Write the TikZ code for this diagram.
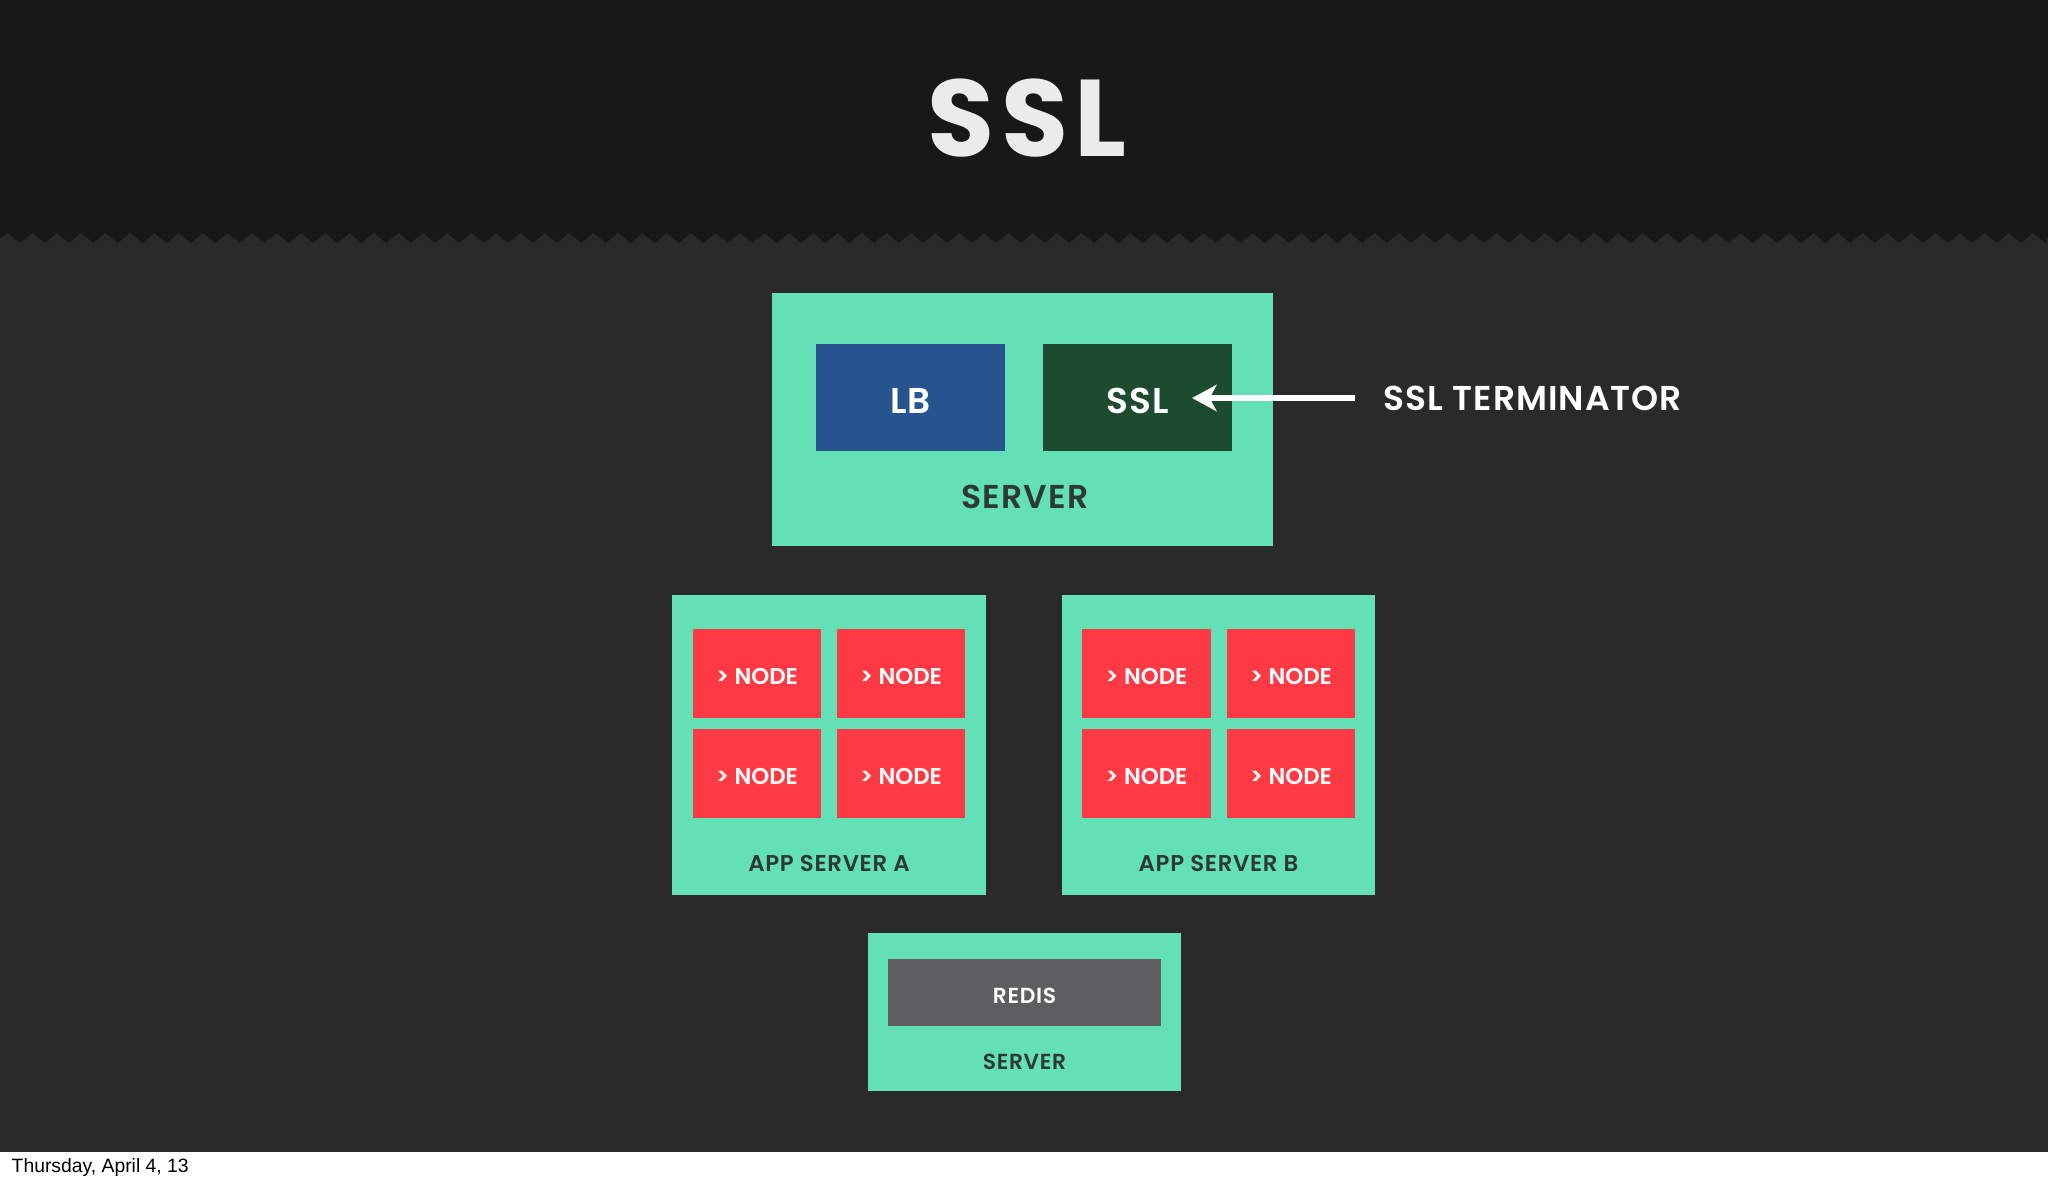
\documentclass[tikz,border=0pt]{standalone}
\usepackage{fontspec}
\setmainfont{Poppins}[UprightFont=*-SemiBold,BoldFont=*-Bold]
\newfontfamily\footfont{Liberation Sans}
\usetikzlibrary{arrows.meta}
\definecolor{topbg}{HTML}{181818}
\definecolor{slate}{HTML}{2A2A2A}
\definecolor{teal}{HTML}{64E0B6}
\definecolor{lbblue}{HTML}{27548F}
\definecolor{sslgreen}{HTML}{1D4B30}
\definecolor{nodered}{HTML}{FF3A45}
\definecolor{redisgrey}{HTML}{5E5D5F}
\definecolor{darktext}{HTML}{2D3A34}
\newcommand{\lowtxt}[1]{\raisebox{-0.9pt}[\height][0pt]{#1}}
\tikzset{
  box/.style={fill=teal, draw=none, inner sep=0pt, rectangle},
  inner/.style={draw=none, inner sep=0pt, rectangle, text=white},
  nodebox/.style={inner, fill=nodered, minimum width=1.28cm, minimum height=0.89cm, font=\fontsize{6.5}{7}\selectfont},
  boxlabel/.style={inner sep=0pt, text=darktext},
  arr/.style={draw=white, line width=1.7pt, -{Stealth[length=7pt,width=7.5pt,inset=2pt]}}
}
\begin{document}
\begin{tikzpicture}[x=0.01cm,y=-0.01cm]
\useasboundingbox (0,0) rectangle (2048,1184);
\clip (0,0) rectangle (2048,1184);
% backgrounds
\fill[slate] (0,0) rectangle (2048,1152);
\fill[topbg] (0,0) -- (0,238)
  \foreach \k in {0,...,83} { -- ({8+24.4*\k},233) -- ({20.2+24.4*\k},243) }
  -- (2048,236) -- (2048,0) -- cycle;
\fill[white] (0,1152) rectangle (2048,1184);
% title
\node[inner sep=0pt, text=white!92!black, font=\fontsize{31}{34}\bfseries\addfontfeature{LetterSpace=6}] (title) at (1027,118) {SSL};
% top server
\node[box, minimum width=5.01cm, minimum height=2.53cm] (server) at (1022.5,419.5) {};
\node[inner, fill=lbblue, minimum width=1.89cm, minimum height=1.07cm, font=\fontsize{10.2}{12}\selectfont] (lb) at (910.5,397.5) {\lowtxt{LB}};
\node[inner, fill=sslgreen, minimum width=1.89cm, minimum height=1.07cm, font=\fontsize{10.2}{12}\selectfont\addfontfeature{LetterSpace=4}] (ssl) at (1137.5,397.5) {\lowtxt{SSL}};
\node[boxlabel, font=\fontsize{9.4}{11}\selectfont\addfontfeature{LetterSpace=4}] (serverlbl) at (1025,497) {SERVER};
% terminator label and arrow
\node[inner sep=0pt, anchor=west, text=white, font=\fontsize{9.8}{12}\selectfont\addfontfeature{LetterSpace=3}] (term) at (1383,398) {SSL TERMINATOR};
\coordinate (tip) at (1192,398);
\draw[arr, shorten <=0.28cm] (term.west) -- (tip);
% app server A
\node[box, minimum width=3.14cm, minimum height=3.00cm] (appa) at (829,745) {};
\node[nodebox] (a1) at (757,673.5) {\lowtxt{> NODE}};
\node[nodebox] (a2) at (901,673.5) {\lowtxt{> NODE}};
\node[nodebox] (a3) at (757,773.5) {\lowtxt{> NODE}};
\node[nodebox] (a4) at (901,773.5) {\lowtxt{> NODE}};
\node[boxlabel, font=\fontsize{6.5}{8}\selectfont\addfontfeature{LetterSpace=3}] (appalbl) at (829,863) {APP SERVER A};
% app server B
\node[box, minimum width=3.13cm, minimum height=3.00cm] (appb) at (1218.5,745) {};
\node[nodebox] (b1) at (1146.5,673.5) {\lowtxt{> NODE}};
\node[nodebox] (b2) at (1291,673.5) {\lowtxt{> NODE}};
\node[nodebox] (b3) at (1146.5,773.5) {\lowtxt{> NODE}};
\node[nodebox] (b4) at (1291,773.5) {\lowtxt{> NODE}};
\node[boxlabel, font=\fontsize{6.5}{8}\selectfont\addfontfeature{LetterSpace=3}] (appblbl) at (1218.5,863) {APP SERVER B};
% redis server
\node[box, minimum width=3.13cm, minimum height=1.58cm] (redisserver) at (1024.5,1012) {};
\node[inner, fill=redisgrey, minimum width=2.73cm, minimum height=0.67cm, font=\fontsize{6.2}{8}\selectfont\addfontfeature{LetterSpace=3}] (redis) at (1024.5,992.5) {\lowtxt{REDIS}};
\node[boxlabel, font=\fontsize{6.2}{8}\selectfont\addfontfeature{LetterSpace=3}] (redislbl) at (1024.5,1062) {SERVER};
% footer
\node[inner sep=0pt, anchor=base west, text=black, font=\footfont\fontsize{5.5}{6}\selectfont] (date) at (11,1172) {Thursday, April 4, 13};
\end{tikzpicture}
\end{document}
